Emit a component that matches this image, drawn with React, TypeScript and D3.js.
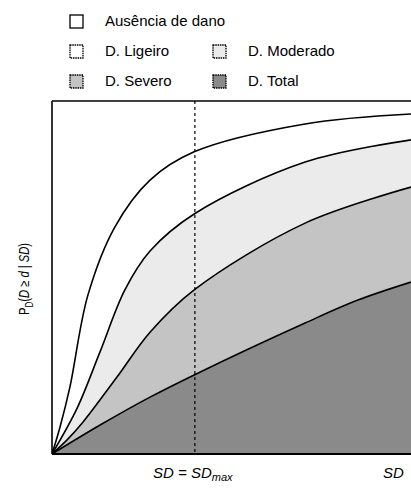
import React from 'react'
import * as d3 from 'd3'

// curve points (x: SD scaled 0..1, y: probability)
const ligeiroX = [0, 0.022, 0.05, 0.1, 0.175, 0.273, 0.396, 0.705, 1]
const ligeiroY = [0, 0.075, 0.19, 0.45, 0.643, 0.776, 0.856, 0.935, 0.963]
const moderadoX = [0, 0.07, 0.134, 0.203, 0.273, 0.396, 0.705, 1]
const moderadoY = [0, 0.13, 0.29, 0.465, 0.575, 0.68, 0.827, 0.89]
const severoX = [0, 0.042, 0.086, 0.181, 0.273, 0.396, 0.705, 1]
const severoY = [0, 0.04, 0.09, 0.218, 0.345, 0.465, 0.654, 0.756]
const totalX = [0, 0.134, 0.273, 0.396, 0.705, 0.852, 1]
const totalY = [0, 0.082, 0.161, 0.224, 0.371, 0.436, 0.487]

const sdMax = 0.398

const labels = ['Ausência de dano', 'D. Ligeiro', 'D. Moderado', 'D. Severo', 'D. Total']
const fills = ['#ffffff', '#ffffff', '#ebebeb', '#c4c4c4', '#8a8a8a']

const width = 411
const height = 493
const margin = { top: 101, right: 0, bottom: 39, left: 52 }

export default function App() {
  const x = d3.scaleLinear().domain([0, 1]).range([margin.left, width - margin.right])
  const y = d3.scaleLinear().domain([0, 1]).range([height - margin.bottom, margin.top])

  const series = [
    { xs: ligeiroX, ys: ligeiroY, fill: fills[1] },
    { xs: moderadoX, ys: moderadoY, fill: fills[2] },
    { xs: severoX, ys: severoY, fill: fills[3] },
    { xs: totalX, ys: totalY, fill: fills[4] },
  ]

  const curve = d3.curveCatmullRom.alpha(0.5)
  const area = d3.area<number[]>()
    .x(d => x(d[0]))
    .y0(y(0))
    .y1(d => y(d[1]))
    .curve(curve)
  const line = d3.line<number[]>()
    .x(d => x(d[0]))
    .y(d => y(d[1]))
    .curve(curve)

  const legend = [
    { i: 0, lx: 70, ly: 15 },
    { i: 1, lx: 70, ly: 45 },
    { i: 2, lx: 213, ly: 45 },
    { i: 3, lx: 70, ly: 75 },
    { i: 4, lx: 213, ly: 75 },
  ]

  const font = 'Liberation Sans, Arial, sans-serif'

  return (
    <svg width={width} height={height} style={{ position: 'absolute', left: 0, top: 0, background: '#fff' }}
      fontFamily={font}>
      <defs>
        <clipPath id="plot">
          <rect x={margin.left} y={margin.top} width={width - margin.left} height={y(0) - margin.top} />
        </clipPath>
      </defs>

      {legend.map(({ i, lx, ly }) => (
        <g key={i}>
          <rect x={lx} y={ly} width={13} height={13} fill={fills[i]} stroke="#000"
            strokeWidth={1.3} strokeDasharray={i === 0 ? undefined : '1.5,0.8'} />
          <text x={lx + 35} y={ly + 11} fontSize={15} fill="#000">{labels[i]}</text>
        </g>
      ))}

      <g clipPath="url(#plot)">
        {series.map((s, k) => (
          <path key={'a' + k} d={area(s.xs.map((v, j) => [v, s.ys[j]])) || ''} fill={s.fill} />
        ))}
        {series.map((s, k) => (
          <path key={'l' + k} d={line(s.xs.map((v, j) => [v, s.ys[j]])) || ''} fill="none"
            stroke="#000" strokeWidth={1.6} />
        ))}
        <line x1={x(sdMax)} x2={x(sdMax)} y1={y(1)} y2={y(0)} stroke="#000" strokeWidth={1.2}
          strokeDasharray="3,3" />
      </g>

      <line x1={x(0)} x2={width} y1={y(1)} y2={y(1)} stroke="#000" strokeWidth={1.6} />
      <line x1={x(0)} x2={x(0)} y1={y(1)} y2={y(0)} stroke="#000" strokeWidth={1.6} />
      <line x1={x(0)} x2={width} y1={y(0)} y2={y(0)} stroke="#000" strokeWidth={2} />

      <text transform={`translate(29, 279) rotate(-90) scale(0.8, 1)`} textAnchor="middle"
        fontSize={14} fill="#000">
        P<tspan fontSize={10} dy={4}>D</tspan><tspan dy={-4}>(</tspan>
        <tspan fontStyle="italic">D</tspan> ≥ <tspan fontStyle="italic">d</tspan> | <tspan fontStyle="italic">SD</tspan>)
      </text>

      <text x={153} y={478} fontSize={15} fontStyle="italic" fill="#000">
        SD = SD<tspan fontSize={11} dy={3}>max</tspan>
      </text>
      <text x={383} y={478} fontSize={15} fontStyle="italic" fill="#000">SD</text>
    </svg>
  )
}
